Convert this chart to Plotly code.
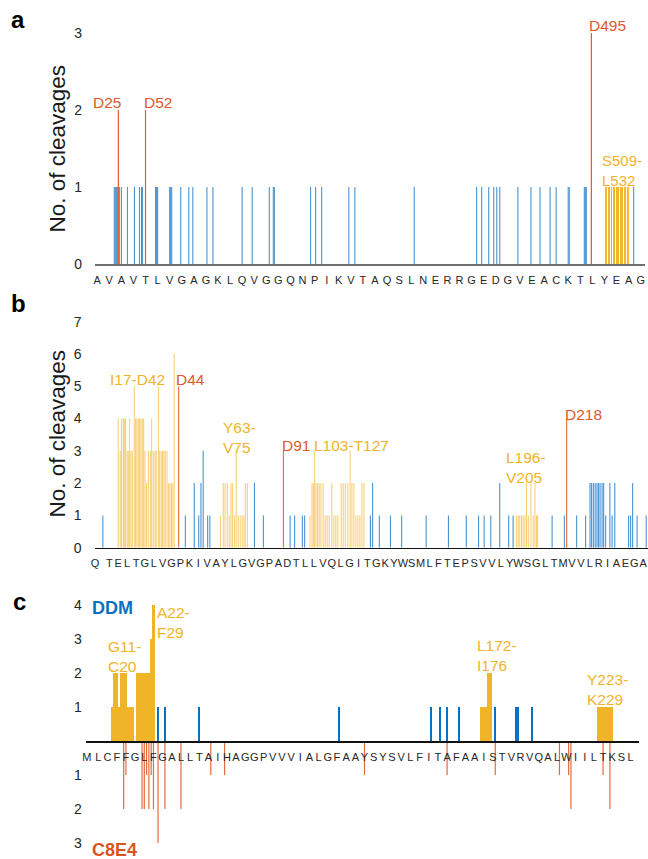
import plotly.graph_objects as go

# the page's default 8px body margin is removed (see write_html), so layout uses window pixels
OFF = 0
W, H = 648, 859

# ---------------- Panel a data ----------------
a_letters = list("AVAVTLVGAGKLQVGGQNPIKVTAQSLNERRGEDGVEACKTLYEAG")
a_first_tick, a_tick_step = 4, 12
a_blue_res = [21, 22, 23, 24, 26, 28, 34, 41, 46, 48, 49, 62, 63, 64, 76, 77, 78, 87, 95, 99,
              113, 119, 148, 158, 175, 179, 180, 216, 221, 227, 254, 260, 319, 381, 386, 393,
              398, 401, 404, 422, 435, 444, 454, 460, 472, 473, 488, 489, 490, 537]
a_blue_val = [1, 1, 1, 1, 1, 1, 1, 1, 1, 1, 1, 1, 1, 1, 1, 1, 1, 1, 1, 1,
              1, 1, 1, 1, 1, 1, 1, 1, 1, 1, 1, 1, 1, 1, 1, 1,
              1, 1, 1, 1, 1, 1, 1, 1, 1, 1, 1, 1, 1, 1]
a_red_res = [25, 52, 495]
a_red_val = [2, 2, 3]
a_yel_res = [509, 510, 512, 513, 515, 517, 518, 520, 521, 522, 524, 525, 526, 528, 529, 531, 532]
a_yel_val = [1, 1, 1, 1, 1, 1, 1, 1, 1, 1, 1, 1, 1, 1, 1, 1, 1]

# ---------------- Panel b data ----------------
b_letters = list("QTELTGLVGPKIVAYLGVGPADTLLVQLGITGKYWSMLFTEPSVVLYWSGLTMVVLRIAEGA")
b_first_tick, b_tick_step, b_q_pos = 12.9, 3.99, 6.5
b_blue_res = [10, 47, 51, 53, 54, 55, 57, 58, 78, 82, 94, 96, 99.5, 100.5,
              130, 131, 134, 139, 144, 155, 165, 173, 178.5, 181, 184, 188, 192, 194,
              211.5, 217, 222.5, 226.5, 228.5, 229.2, 230, 230.8, 231.6, 232.3, 233, 233.9, 234.6,
              235.5, 237.4, 238.4, 239.6, 245.8, 246.7, 247.6, 249.6, 253.7]
b_blue_val = [1, 1, 2, 1, 2, 3, 1, 1, 2, 1, 1, 1, 1, 1,
              1, 2, 1, 1, 1, 1, 1, 1, 1, 1, 1, 2, 1, 1,
              1, 1, 1, 1, 2, 2, 2, 2, 2, 2, 2, 2, 2,
              1, 2, 1, 2, 1, 1, 2, 1, 1]
b_yel_res = [16.9, 17.8, 18.4, 19.2, 19.6, 20.2, 20.9, 21.4, 22.0, 22.6, 23.2, 24.1, 24.7, 25.3,
             25.9, 26.5, 27.1, 27.7, 28.3, 28.9, 29.6, 30.4, 31.3, 31.9, 32.6, 33.4, 33.9, 34.9,
             35.5, 36.2, 36.8, 37.4, 38.0, 38.8, 39.5, 40.1, 40.8, 41.4, 42.0,
             62.8, 64.0, 64.8, 65.8, 66.7, 67.5, 68.2, 69.0, 69.8, 70.7, 71.6, 72.5, 73.3, 73.9, 74.8,
             102.9, 103.8, 104.4, 105.0, 105.6, 106.3, 107.0, 107.8, 108.8, 109.7, 110.6, 111.5,
             112.7, 113.6, 114.5, 115.4, 116.9, 117.8, 118.7, 119.9, 120.9, 121.7, 122.6, 123.5,
             124.4, 125.3, 126.2, 127.1,
             195.5, 196.3, 197.0, 197.8, 198.5, 199.3, 200.0, 200.8, 202.0, 203.0, 203.8, 204.5, 205.0]
b_yel_val = [4, 3, 4, 4, 4, 4, 3, 3, 4, 3, 3, 5, 4, 4,
             4, 4, 4, 4, 4, 3, 2, 3, 3, 4, 3, 3, 3, 5,
             3, 3, 3, 3, 3, 3, 2, 2, 2, 2, 6,
             1, 2, 2, 2, 1, 2, 2, 1, 3, 1, 1, 1, 1, 2, 2,
             1, 2, 2, 3, 2, 2, 2, 2, 2, 1, 1, 1,
             2, 1, 1, 1, 2, 2, 2, 2, 3, 2, 2, 1,
             1, 1, 2, 2,
             1, 1, 1, 1, 1, 1, 2, 1, 2, 1, 2, 1, 1]
b_red_res = [44, 91, 218]
b_red_val = [5, 3, 4]

# ---------------- Panel c data ----------------
c_letters = list("MLCFFGLFGALLTAIHAGGPVVVIALGFAAYSYSVLFITAFAAISTVRVQALWIILTKSL")
c_first_tick, c_tick_step, c_m_pos = 5, 4, 0
c_ddm_yel_res = [11, 12, 13, 14, 15, 16, 17, 18, 19, 20,
                 22, 23, 24, 25, 26, 27, 28, 29,
                 172, 173, 174, 175, 176,
                 223, 224, 225, 226, 227, 228, 229]
c_ddm_yel_val = [1, 2, 2, 1, 2, 2, 2, 1, 1, 1,
                 2, 2, 2, 2, 2, 2, 3, 4,
                 1, 1, 1, 2, 2,
                 1, 1, 1, 1, 1, 1, 1]
c_ddm_blue_res = [31, 34, 49, 110, 150, 154, 157, 162, 178, 187, 188, 194]
c_ddm_blue_val = [1, 1, 1, 1, 1, 1, 1, 1, 1, 1, 1, 1]
c_c8e4_res = [16, 17, 24, 25, 26, 27, 28, 29, 31, 34, 41, 54, 60, 121, 157, 178, 206, 210, 211, 225, 228]
c_c8e4_val = [2, 1, 2, 2, 1, 2, 1, 2, 3, 2, 2, 1, 1, 1, 1, 1, 1, 1, 2, 1, 2]

# ---------------- styling ----------------
BLUE = "#4A93D3"
BLUE_DDM = "#0A70C0"
YEL = "#F0B429"
YEL_B = "#F6C65A"
RED = "#E0592A"
TXT = "#262626"
FONT = "Liberation Sans, Arial, sans-serif"


def px(x):
    return (x - OFF) / W


def py(y):
    return 1 - (y - OFF) / H


# domains (window-pixel based layout)
dom_a_x = [px(95), px(645)]
dom_a_y = [py(264), py(33)]
dom_b_x = [px(94.6), 1.0]
dom_b_y = [py(547.7), py(321.6)]
dom_c_x = [px(85.8), px(638.6)]
dom_c_y = [py(843), py(605)]
c_zero_pos = dom_c_y[0] + (3 / 7) * (dom_c_y[1] - dom_c_y[0])

fig = go.Figure()


def stems(xs, ys, color, width, xa, ya, sign=1):
    X, Y = [], []
    for x, y in zip(xs, ys):
        X += [x, x, None]
        Y += [0, sign * y, None]
    fig.add_trace(go.Scatter(x=X, y=Y, mode="lines", line=dict(color=color, width=width),
                             xaxis=xa, yaxis=ya, showlegend=False, hoverinfo="skip"))


def bars(x, y, color, width, xa, ya):
    fig.add_trace(go.Bar(x=x, y=y, width=width, marker=dict(color=color, line=dict(width=0)),
                         xaxis=xa, yaxis=ya, showlegend=False, hoverinfo="skip"))


# panel a
stems(a_blue_res, a_blue_val, BLUE, 1.1, "x", "y")
stems(a_yel_res, a_yel_val, YEL, 1.0, "x", "y")
stems(a_red_res, a_red_val, RED, 1.2, "x", "y")

# panel b
stems(b_blue_res, b_blue_val, BLUE, 1.1, "x2", "y2")
stems(b_yel_res, b_yel_val, YEL_B, 0.9, "x2", "y2")
stems(b_red_res, b_red_val, "#E8734A", 1.2, "x2", "y2")

# panel c
bars(c_ddm_yel_res, c_ddm_yel_val, YEL, 1.0, "x3", "y3")
bars(c_ddm_blue_res, c_ddm_blue_val, BLUE_DDM, 0.85, "x3", "y3")
stems(c_c8e4_res, c_c8e4_val, "#E36B3C", 1.2, "x3", "y3", sign=-1)

a_tickvals = [a_first_tick + i * a_tick_step for i in range(len(a_letters))]
b_tickvals = [b_q_pos] + [b_first_tick + i * b_tick_step for i in range(len(b_letters) - 1)]
c_tickvals = [c_m_pos] + [c_first_tick + i * c_tick_step for i in range(len(c_letters) - 1)]

xcommon = dict(showgrid=False, zeroline=False, ticks="", tickangle=0, automargin=False,
               ticklabeloverflow="allow",
               tickfont=dict(size=11, color=TXT, family=FONT), showline=True)
ycommon = dict(showgrid=False, zeroline=False, showline=False, ticks="", automargin=False,
               tickfont=dict(size=14, color=TXT, family=FONT))

fig.update_layout(
    width=W, height=H, margin=dict(l=0, r=0, t=0, b=0, autoexpand=False),
    paper_bgcolor="white", plot_bgcolor="white",
    barmode="overlay", bargap=0, showlegend=False, hovermode=False,
    font=dict(family=FONT, color=TXT),
    xaxis=dict(domain=dom_a_x, range=[1.8, 548.3], anchor="y", tickvals=a_tickvals, ticktext=a_letters,
               linecolor="#707070", linewidth=2, ticklabelstandoff=5, **xcommon),
    yaxis=dict(domain=dom_a_y, range=[0, 3], anchor="x", tickvals=[0, 1, 2, 3],
               ticklabelstandoff=12, **ycommon),
    xaxis2=dict(domain=dom_b_x, range=[6.3, 254.5], anchor="y2", tickvals=b_tickvals, ticktext=b_letters,
                linecolor="#111111", linewidth=1.5, ticklabelstandoff=5, **xcommon),
    yaxis2=dict(domain=dom_b_y, range=[0, 7], anchor="x2", tickvals=list(range(8)),
                ticklabelstandoff=12, **ycommon),
    xaxis3=dict(domain=dom_c_x, range=[-0.5, 240.5], anchor="free", position=c_zero_pos,
                tickvals=c_tickvals, ticktext=c_letters,
                linecolor="#111111", linewidth=1.5, ticklabelstandoff=5, **xcommon),
    yaxis3=dict(domain=dom_c_y, range=[-3, 4], anchor="free", position=dom_c_x[0],
                tickvals=[-3, -2, -1, 1, 2, 3, 4],
                ticktext=["3", "2", "1", "1", "2", "3", "4"], ticklabelstandoff=4, **ycommon),
)

ann = []


def label(text, x, y, color, xanchor="center", yanchor="middle", size=15.5, bold=False, align="left"):
    t = f"<b>{text}</b>" if bold else text
    ann.append(dict(text=t, x=px(x), y=py(y), xref="paper", yref="paper", showarrow=False,
                    xanchor=xanchor, yanchor=yanchor, align=align,
                    font=dict(size=size, color=color, family=FONT)))


# panel letters
label("a", 18, 20, "#000000", size=24, bold=True)
label("b", 18, 303, "#000000", size=24, bold=True)
label("c", 19, 601, "#000000", size=24, bold=True)

# y titles
for yc in (149, 434):
    ann.append(dict(text="No. of cleavages", x=px(56.5), y=py(yc), xref="paper", yref="paper",
                    xanchor="center", yanchor="middle",
                    showarrow=False, textangle=-90, font=dict(size=22.5, color="#1a1a1a", family=FONT)))

# panel a labels
label("D25", 107.5, 103, RED)
label("D52", 157.5, 103, RED)
label("D495", 607.5, 25.5, RED)
label("S509-<br>L532", 600, 150, YEL, xanchor="left", yanchor="top", size=15)

# panel b labels
label("I17-D42", 137, 379, YEL)
label("D44", 191, 379, RED)
label("Y63-<br>V75", 221, 417, YEL, xanchor="left", yanchor="top")
label("D91", 296, 446, RED)
label("L103-T127", 351, 446, YEL)
label("L196-<br>V205", 504, 447, YEL, xanchor="left", yanchor="top")
label("D218", 583, 414, RED)

# panel c labels
label("DDM", 112, 608, BLUE_DDM, size=18, bold=True)
label("C8E4", 114, 850, "#D9541E", size=18, bold=True)
label("G11-<br>C20", 106, 636, YEL, xanchor="left", yanchor="top")
label("A22-<br>F29", 155, 602, YEL, xanchor="left", yanchor="top")
label("L172-<br>I176", 475, 635, YEL, xanchor="left", yanchor="top")
label("Y223-<br>K229", 585, 669, YEL, xanchor="left", yanchor="top")

fig.update_layout(annotations=ann)

fig.write_html("out.html", config={"displayModeBar": False, "staticPlot": True},
               post_script="document.body.style.margin='0px';document.body.style.overflow='hidden';")
